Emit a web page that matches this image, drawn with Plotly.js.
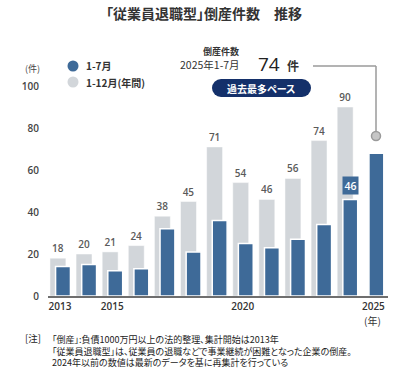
<!DOCTYPE html>
<html>
<head>
<meta charset="utf-8">
<script src="https://cdn.plot.ly/plotly-3.0.1.min.js"></script>
<style>
  html, body { margin: 0; padding: 0; background: #fff; }
  #chart { width: 420px; height: 385px; }
  text { font-feature-settings: "palt" 1; }
</style>
</head>
<body>
<div id="chart"></div>
<script>
// ---- data ----
const years = [2013, 2014, 2015, 2016, 2017, 2018, 2019, 2020, 2021, 2022, 2023, 2024, 2025];
const annualYears = [2013, 2014, 2015, 2016, 2017, 2018, 2019, 2020, 2021, 2022, 2023, 2024];
const annualCounts = [18, 20, 21, 24, 38, 45, 71, 54, 46, 56, 74, 90];   // 1-12月(年間)
const janJulCounts = [14, 15, 12, 13, 32, 21, 36, 25, 23, 27, 34, 46, 68]; // 1-7月
const xTickVals = [2013, 2015, 2020, 2025];
const xTickText = ['2013', '2015', '2020', '2025'];
const yTickVals = [0, 20, 40, 60, 80, 100];
const seriesNames = ['1-7月', '1-12月(年間)'];
const titleText = '「従業員退職型」倒産件数　推移';
const calloutHead = '倒産件数';
const calloutPeriod = '2025年1-7月';
const calloutValue = '74';
const calloutUnit = '件';
const badgeText = '過去最多ペース';
const highlightYear = 2024;
const highlightValue = 46;
const noteLabel = '[注]';
const noteLines = [
  '「倒産」:負債1000万円以上の法的整理、集計開始は2013年',
  '「従業員退職型」は、従業員の退職などで事業継続が困難となった企業の倒産。',
  '2024年以前の数値は最新のデータを基に再集計を行っている'
];

// ---- styles ----
const BLUE = '#3e6a98';
const GRAY = '#d2d6da';
const NAVY = '#14306a';
const JP = '"Noto Sans CJK JP", "Noto Sans", sans-serif';
const NUM = '"Open Sans", "Noto Sans", sans-serif';

// plot area in pixels
const L = 48, R = 388, T = 86, B = 296, W = 420, H = 385;
const px = x => (x - L) / (R - L);
const py = y => (B - y) / (B - T);

const traces = [
  {
    type: 'bar', name: seriesNames[1],
    x: annualYears, y: annualCounts,
    width: 0.61, offset: -0.385,
    marker: { color: GRAY, line: { color: '#ffffff', width: 0.5 } },
    text: annualCounts.map(String), textposition: 'outside',
    textfont: { family: NUM, size: 10, color: '#5a5a5a', weight: 600 },
    cliponaxis: false, hoverinfo: 'skip', showlegend: false
  },
  {
    type: 'bar', name: seriesNames[0],
    x: years, y: janJulCounts,
    width: 0.57, offset: -0.17,
    marker: { color: BLUE, line: { color: '#ffffff', width: 1.5 } },
    hoverinfo: 'skip', showlegend: false
  }
];

function circ(cx, cy, r, fill, lineColor, lw) {
  return { type: 'circle', xref: 'paper', yref: 'paper',
    x0: px(cx - r), x1: px(cx + r), y0: py(cy + r), y1: py(cy - r),
    fillcolor: fill, line: { color: lineColor || fill, width: lw || 0 } };
}
function rect(x0, y0, x1, y1, fill) {
  return { type: 'rect', xref: 'paper', yref: 'paper',
    x0: px(x0), x1: px(x1), y0: py(y1), y1: py(y0),
    fillcolor: fill, line: { width: 0 } };
}
function seg(x0, y0, x1, y1, color, w) {
  return { type: 'line', xref: 'paper', yref: 'paper',
    x0: px(x0), x1: px(x1), y0: py(y0), y1: py(y1),
    line: { color: color, width: w } };
}

const shapes = [
  circ(73, 66, 5.5, BLUE),
  circ(73, 82, 5.5, GRAY),
  rect(221, 79, 302, 97, NAVY),
  circ(221, 88, 9, NAVY),
  circ(302, 88, 9, NAVY),
  seg(376, 131, 376, 66, '#9a9a9a', 1.5),
  seg(376, 66, 313, 66, '#9a9a9a', 1.5),
  circ(376, 136, 4.5, '#c6c6c6', '#9a9a9a', 1.5)
];

function ann(text, x, y, opts) {
  return Object.assign({ text: text, xref: 'paper', yref: 'paper', x: px(x), y: py(y),
    showarrow: false, xanchor: 'left', yanchor: 'middle',
    font: { family: JP, size: 10, color: '#333' } }, opts || {});
}

const annotations = [
  ann(titleText, 204, 13, { xanchor: 'center', font: { family: JP, size: 14, color: '#333', weight: 600 } }),
  ann('(件)', 32, 68, { xanchor: 'center', font: { family: JP, size: 9, color: '#444' } }),
  ann(seriesNames[0], 84, 66, { font: { family: JP, size: 10, color: '#333', weight: 600 } }),
  ann(seriesNames[1], 84, 82, { font: { family: JP, size: 10, color: '#333', weight: 600 } }),
  ann(calloutHead, 221, 52, { xanchor: 'center', font: { family: JP, size: 9, color: '#333', weight: 600 } }),
  ann(calloutPeriod, 242, 65, { xanchor: 'right', font: { family: JP, size: 10.5, color: '#333' } }),
  ann(calloutValue, 269, 64, { xanchor: 'center', font: { family: NUM, size: 19, color: '#222' } }),
  ann(calloutUnit, 285, 66, { font: { family: JP, size: 12, color: '#333', weight: 600 } }),
  ann(badgeText, 261.5, 88, { xanchor: 'center', font: { family: JP, size: 10, color: '#ffffff', weight: 700 } }),
  { text: String(highlightValue), xref: 'x', yref: 'y', x: highlightYear + 0.115, y: highlightValue,
    showarrow: false, xanchor: 'center', yanchor: 'bottom', yshift: 4,
    bgcolor: BLUE, borderpad: 1.5,
    font: { family: NUM, size: 10.5, color: '#ffffff', weight: 600 } },
  ann('(年)', 372, 320, { xanchor: 'center', font: { family: JP, size: 10, color: '#333' } }),
  ann(noteLabel, 24, 338, { borderpad: 0, font: { family: JP, size: 9.5, color: '#222' } }),
  ann(noteLines.join('<br>'), 51, 332, { yanchor: 'top', align: 'left', borderpad: 0,
    font: { family: JP, size: 9, color: '#222' } })
];

const layout = {
  width: W, height: H,
  margin: { l: L, r: W - R, t: T, b: H - B, pad: 0 },
  paper_bgcolor: '#ffffff', plot_bgcolor: '#ffffff',
  barmode: 'overlay', showlegend: false,
  xaxis: {
    range: [2012.54, 2025.56], tickvals: xTickVals, ticktext: xTickText,
    showline: true, linecolor: '#6e6e6e', linewidth: 2, ticks: '',
    showgrid: false, zeroline: false, fixedrange: true,
    tickfont: { family: NUM, size: 10, color: '#333', weight: 600 }
  },
  yaxis: {
    range: [0, 100], tickvals: yTickVals, showline: false, ticks: '',
    showgrid: false, zeroline: false, fixedrange: true, ticklabelstandoff: 8,
    tickfont: { family: NUM, size: 10, color: '#444', weight: 600 }
  },
  shapes: shapes,
  annotations: annotations,
  font: { family: JP }
};

Plotly.newPlot('chart', traces, layout, { staticPlot: true, displayModeBar: false });
</script>
</body>
</html>
